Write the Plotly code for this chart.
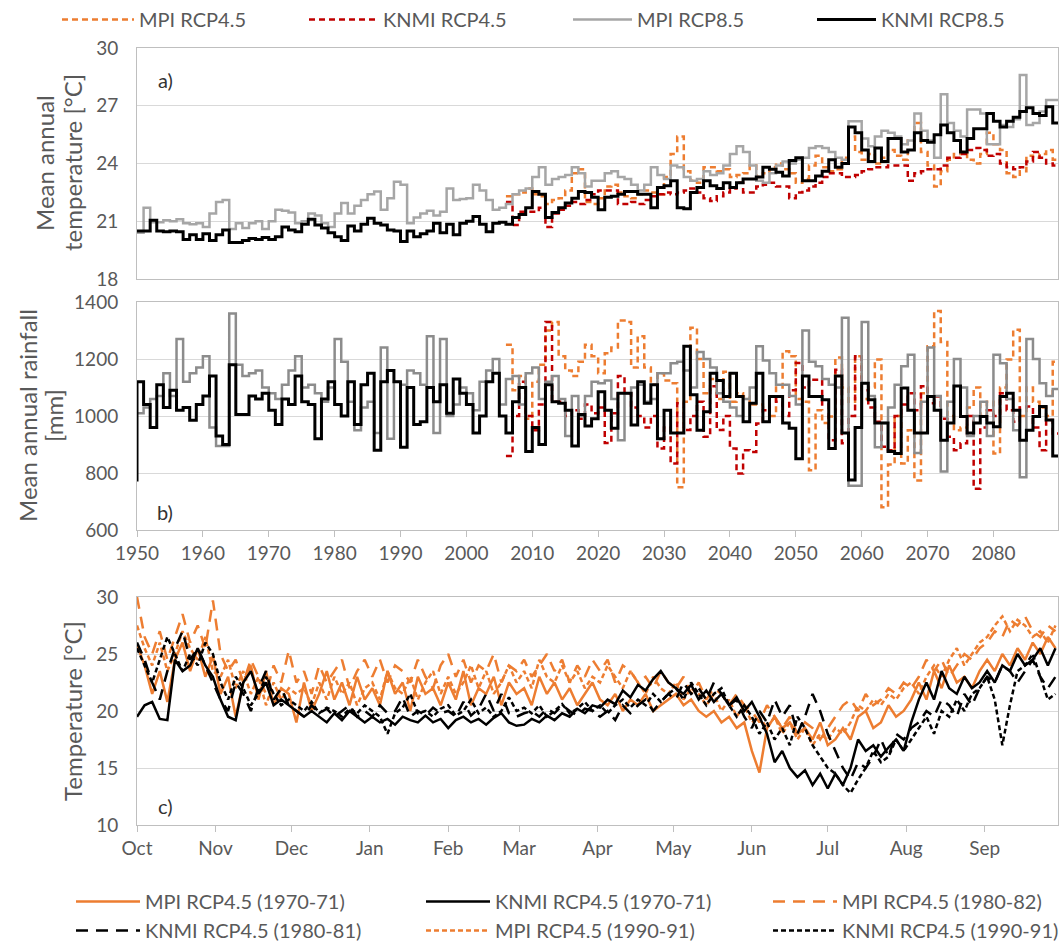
import plotly.graph_objects as go
import pandas as pd

W, H = 1062, 946

# ---------------- DATA ----------------
years_hist = list(range(1950, 2090))      # MPI / KNMI RCP8.5 (incl. historical)
years_rcp45 = list(range(2006, 2090))     # RCP4.5 runs

temp_mpi85 = [
    20.4, 21.7, 20.95, 20.95, 21.05, 21.0, 21.1, 20.9, 20.85, 20.9,
    20.7, 21.4, 22.0, 22.1, 20.6, 20.9, 20.65, 20.9, 21.0, 20.6,
    21.0, 21.6, 21.55, 21.45, 20.9, 21.0, 21.4, 21.3, 20.9, 20.7,
    21.4, 21.95, 21.4, 21.8, 22.1, 22.4, 22.55, 21.6, 22.2, 23.05,
    22.9, 20.9, 21.2, 21.4, 21.55, 21.3, 21.5, 22.7, 22.1, 22.15,
    22.2, 22.9, 22.6, 22.1, 21.6, 21.7,
    21.9, 22.4, 22.6, 22.7,
    23.3, 23.8, 22.9, 23.2, 23.3, 23.4, 23.8, 23.5, 22.8, 23.1,
    23.1, 23.5, 23.6, 23.3, 23.2, 22.9, 22.6, 22.9, 23.8, 23.4,
    23.2, 23.9, 23.8, 23.3, 23.1, 23.2, 23.6, 23.4, 23.5, 23.9,
    24.5, 24.9, 24.6, 23.9, 23.1, 23.0, 23.5,
    23.9, 24.1, 24.0,
    24.2, 24.3, 24.8, 24.9, 24.8, 24.6, 24.3, 24.2, 26.2, 26.2,
    25.3, 24.9, 25.4, 25.7, 25.6, 25.4, 25.0, 25.2, 26.6, 25.7,
    25.2, 24.3, 27.6, 26.1, 25.7, 25.4, 26.8, 26.8, 26.6, 25.0,
    25.0, 26.0, 25.9, 26.3, 28.6, 26.0, 26.1, 26.7, 27.3, 27.3,
]
temp_knmi85 = [
    20.5, 20.5, 21.05, 20.5, 20.45, 20.5, 20.45, 20.05, 20.3, 20.05,
    20.35, 20.0, 20.3, 20.55, 19.9, 19.9, 20.0, 20.1, 20.05, 20.15,
    20.05, 20.2, 20.7, 20.55, 20.45, 20.85, 21.1, 20.8, 20.65, 20.4,
    20.2, 20.0, 20.75, 20.5, 20.85, 21.15, 20.9, 20.8, 20.55, 20.5,
    19.95, 20.5, 20.2, 20.35, 20.5, 20.9, 20.4, 20.85, 20.3, 20.9,
    21.0, 21.25, 20.85, 20.45, 20.9, 20.95,
    20.85, 21.2, 21.35, 21.7,
    22.55, 22.4, 21.2, 21.45, 21.7, 21.95, 22.2, 22.55, 22.5, 22.25,
    21.6, 22.25, 22.3, 22.4, 22.55, 22.55, 22.4, 22.4, 21.7, 22.75,
    22.85, 23.1, 21.7, 21.65, 22.5, 22.75, 23.1, 22.85, 22.7, 23.0,
    22.75, 23.0, 23.2, 23.2, 23.3, 23.8, 23.7, 23.55,
    23.35, 24.15,
    24.3, 23.1, 23.1, 23.35, 23.6, 24.2, 23.8, 24.0, 25.9, 25.6,
    24.7, 24.1, 24.8, 24.1, 25.3, 25.3, 24.6, 24.7, 25.6, 25.2,
    25.1, 25.5, 26.0, 25.6, 25.2, 24.6, 25.3, 25.8, 25.8, 26.6,
    26.2, 25.9, 26.2, 26.4, 26.7, 26.9, 26.6, 26.5, 26.95, 26.1,
]
temp_mpi45 = [
    22.3, 22.4, 22.5, 22.7,
    22.4, 22.3, 21.9, 22.1, 22.2, 22.6, 23.5, 23.7, 22.0, 21.9,
    22.2, 22.8, 22.9, 22.5, 22.3, 22.2, 22.4, 22.6, 22.5, 22.4,
    23.3, 24.5, 25.4, 23.6, 23.1, 23.0, 23.8, 23.8, 23.6, 23.7,
    23.3, 23.4, 23.5, 23.9, 23.3, 23.5, 23.8, 24.0, 23.7, 23.5,
    23.0, 23.2, 23.9, 24.4, 23.8, 23.6, 23.7, 24.3, 25.4, 24.6,
    24.2, 24.5, 24.0, 24.3, 24.7, 24.4, 24.2, 25.2, 26.1, 24.6,
    23.9, 22.8, 23.6, 24.2, 24.5, 24.6, 24.2, 24.0, 24.5, 25.6,
    25.0, 24.7, 23.5, 23.3, 23.6, 24.4, 24.3, 24.5, 24.7, 24.2,
]
temp_knmi45 = [
    22.0, 20.8, 21.5, 21.5,
    21.5, 21.7, 20.7, 21.4, 21.6, 21.8, 22.0, 21.9, 22.1, 22.4,
    22.6, 22.6, 22.6, 21.9, 21.9, 22.0, 21.9, 22.1, 22.3, 22.4,
    22.5, 22.4, 22.5, 22.6, 22.7, 22.5, 22.2, 22.05, 22.3, 22.5,
    22.7, 23.0, 22.5, 22.5, 22.8, 22.9, 23.0, 22.8, 22.8, 22.2,
    22.5, 22.6, 22.8, 23.0, 23.3, 23.5, 23.5, 23.3, 23.3, 23.4,
    23.6, 23.7, 23.8, 23.8, 23.9, 23.9, 23.9, 23.1, 23.5, 23.6,
    23.7, 23.7, 23.9, 24.3, 24.3, 24.5, 24.7, 24.8, 24.7, 24.4,
    24.5, 24.0, 23.8, 23.7, 23.8, 24.1, 24.6, 24.3, 24.0, 23.9,
]

rain_mpi85 = [
    1010, 1030, 1060, 1070, 1150, 1070, 1270, 1120, 1150, 1170,
    1210, 960, 895, 895, 1360, 1180, 1140, 1150, 1160, 1100,
    1080, 1060, 1110, 1160, 1210, 1100, 1110, 1080, 1050, 1100,
    1270, 1190, 1050, 950, 1030, 1050, 940, 1240, 920, 1120,
    1110, 1160, 1150, 1110, 1280, 940, 1270, 1000, 1040, 1100,
    1080, 1020, 1120, 1160, 1200, 1040,
    1130, 1140, 1040, 1150,
    1170, 1060, 1120, 1140, 1060, 930, 1070, 1000, 1070, 1120,
    1115, 1125, 1060, 915, 1080, 1100, 1110, 1050, 1060, 1150,
    1150, 1185, 1190, 1160, 1100, 1225, 1200, 1170, 1080, 1050,
    1030, 1000, 1060, 1100, 1245, 1195, 1150, 1110, 1110, 1070,
    1040, 1300, 1190, 1175, 1130, 1110, 1100, 1345, 755, 755,
    1330, 1070, 890, 975, 1030, 1110, 1175, 1215, 870, 1050,
    1240, 1070, 805, 1050, 1200, 1100, 930, 1000, 1050, 930,
    1215, 1185, 1060, 950, 785, 1270, 1200, 1115, 1070, 1095,
]
rain_knmi85_start = 770
rain_knmi85 = [
    1120, 1040, 960, 1110, 1030, 1090, 1020, 1030, 985, 1040,
    1070, 1140, 930, 900, 1180, 1005, 1005, 1070, 1060, 1080,
    1020, 970, 1060, 1040, 1140, 1050, 1040, 920, 1060, 1120,
    1040, 1000, 1120, 970, 1110, 1150, 880, 1120, 1160, 1120,
    890, 1100, 970, 980, 1100, 1050, 1110, 1010, 1130, 1080,
    1040, 940, 1000, 1120, 1150, 1000,
    940, 1050, 1100, 875,
    960, 900, 1110, 1050, 1045, 1020, 895, 1005, 965, 990,
    1085, 1020, 957, 1080, 1080, 968, 1120, 1045, 1110, 920,
    1020, 940, 940, 1245, 1075, 950, 1015, 1150, 1125, 1068,
    1150, 1068, 980, 1045, 1150, 980, 1068, 1068, 975, 957,
    850, 1140, 1068, 1068, 1057, 886, 1140, 940, 775, 960,
    1115, 1057, 975, 975, 875, 868, 1098, 1020, 940, 940,
    1068, 1020, 915, 975, 1105, 998, 940, 975, 998, 975,
    962, 1068, 1080, 1020, 915, 950, 998, 1033, 986, 860,
]
rain_mpi45 = [
    1250, 1090, 1140, 990,
    1120, 1180, 1300, 1330, 1210, 1160, 1140, 1190, 1250, 1210,
    1150, 1220, 1240, 1335, 1330, 1170, 1280, 1170, 1110, 1150,
    1125, 1115, 750, 1050, 1310, 1200, 1080, 1130, 1060, 1155,
    1050, 1080, 1068, 1040, 1040, 1030, 1000, 1100, 1227, 1210,
    1060, 1050, 810, 1020, 975, 998, 1205, 1100, 1050, 1210,
    1060, 1100, 1198, 680, 830, 1000, 833, 950, 774, 1080,
    1245, 1368, 1260, 1000, 950, 960, 1030, 1100, 1000, 1050,
    868, 1100, 1198, 1303, 1000, 1100, 1050, 1030, 1000, 1190,
]
rain_knmi45 = [
    860, 1000, 1120, 1000,
    950, 1040, 1330, 1050, 1050, 1000, 1020, 990, 1040, 1010,
    1030, 905, 1010, 1140, 1080, 1030, 1000, 960, 1000, 886,
    960, 833, 1045, 951, 1000, 1050, 927, 1104, 951, 1000,
    886, 798, 880, 874, 974, 1020, 1068, 1050, 1000, 1090,
    1186, 1100, 1127, 1127, 1040, 915, 1162, 904, 1000, 1210,
    1090, 1030, 980, 892, 880, 1000, 1040, 1080, 1020, 1104,
    1045, 1068, 990, 927, 880, 904, 1000, 745, 960, 1020,
    1000, 1080, 1020, 980, 1030, 1033, 960, 880, 986, 939,
]

# Daily-panel samples: every 3rd day from 1 Oct (122 samples)
day_start = "2000-10-01"
n_days = 122
mpi_7071 = [
    25.8, 24.0, 21.5, 23.5, 20.8, 24.5, 26.0, 23.5, 25.5, 23.0, 24.8,
    21.5, 23.0, 19.5, 22.5, 24.0, 21.0, 23.5, 20.5, 22.0, 21.5,
    19.0, 22.5, 20.0, 21.5, 23.5, 21.0, 22.5, 20.5, 23.0, 21.0,
    22.0, 20.5, 23.5, 21.5, 22.5, 20.0, 23.0, 21.5, 22.0, 20.5,
    22.5, 21.0, 23.5, 20.5, 22.0, 21.5, 23.0, 20.5, 22.5, 21.5,
    22.0, 20.5, 23.0, 21.5, 22.5, 21.0, 22.0, 20.5, 21.5, 22.5,
    21.0, 20.5, 21.5, 20.0, 21.0, 20.5, 21.5, 20.0, 20.5, 21.0,
    21.5, 20.5, 21.0, 20.0, 19.5, 20.0, 19.0, 19.5, 18.5, 19.0,
    16.5, 14.6, 18.5, 19.5, 18.5, 19.0, 18.0, 18.5, 17.5, 19.0,
    17.0, 17.5, 18.5, 17.5, 19.5, 20.0, 18.5, 19.0, 20.5, 19.5, 20.0,
    21.0, 22.5, 21.0, 23.5, 22.0, 24.0, 22.5, 23.0, 22.0, 23.5,
    24.5, 23.5, 25.0, 24.0, 25.5, 24.5, 26.0, 25.0, 26.5, 25.5,
]
knmi_7071 = [
    19.5, 20.5, 20.8, 19.3, 19.2, 24.5, 23.5, 24.0, 25.5, 24.0, 23.0,
    21.0, 19.5, 19.2, 22.5, 23.5, 21.5, 22.5, 20.5, 21.0, 20.5,
    20.0, 19.5, 20.0, 19.5, 19.0, 19.8, 19.2, 20.0, 19.5, 19.0,
    19.5, 19.0, 19.3, 18.8, 19.5, 19.2, 19.0, 19.6, 19.0, 19.3,
    18.5, 19.2, 19.5, 19.0, 19.3, 18.8, 19.4, 19.8, 19.0, 18.7,
    18.8, 19.3, 19.0, 19.6, 19.2, 19.8, 19.5, 20.2, 19.8, 20.5,
    20.3, 21.0, 20.6, 21.8, 21.2, 22.3, 21.8, 22.8, 23.5, 22.5,
    22.0, 21.5, 22.3, 21.0, 21.8, 20.8, 21.5, 20.5, 21.2, 20.0,
    20.8, 19.5, 18.0, 15.5, 16.5, 15.0, 14.2, 14.8, 13.5, 14.5,
    13.2, 14.5, 13.5, 15.0, 17.5, 16.5, 17.0, 16.0, 16.8, 17.5, 16.5,
    19.0, 21.0, 22.5, 21.0, 23.5, 22.0, 21.5, 23.0, 22.0, 22.5,
    23.5, 22.5, 24.0, 23.5, 25.0, 24.0, 24.5, 25.5, 24.0, 25.5,
]
mpi_8082 = [
    30.0, 26.5, 25.0, 27.0, 24.5, 26.5, 28.5, 26.0, 27.5, 25.5, 29.7,
    25.0, 23.5, 24.5, 22.5, 24.5, 23.0, 21.5, 24.0, 22.5, 25.3,
    22.5, 23.5, 21.5, 24.0, 22.5, 23.5, 24.5, 22.0, 23.5, 24.5,
    23.0, 24.5, 22.5, 24.0, 23.5, 22.5, 24.5, 23.0, 22.0, 24.0,
    25.0, 23.0, 24.5, 22.5, 24.0, 23.5, 25.0, 22.5, 24.0, 23.5,
    24.5, 23.0, 24.0, 25.0, 23.5, 24.5, 22.5, 24.0, 23.0, 24.5,
    23.5, 24.5, 22.5, 24.0, 23.5, 22.5, 23.0, 22.0, 23.5, 22.5,
    22.0, 23.0, 21.5, 22.5, 21.0, 22.0, 21.5, 20.5, 21.5, 20.5,
    20.0, 19.0, 20.5, 19.5, 18.5, 19.5, 18.0, 19.0, 18.5, 17.5,
    18.5, 19.5, 20.5, 21.0, 20.0, 21.5, 20.5, 21.0, 22.0, 21.5, 22.5,
    22.0, 23.0, 24.5, 23.5, 24.5, 23.0, 24.0, 25.0, 24.5, 25.5,
    26.0, 27.0, 26.5, 28.0, 27.5, 28.3, 27.0, 26.5, 27.5, 27.0,
]
knmi_8081 = [
    26.0, 24.5, 22.5, 21.0, 23.5, 25.5, 27.0, 24.5, 25.5, 24.0, 22.5,
    21.0, 20.0, 22.5, 21.5, 20.0, 22.0, 23.5, 21.0, 22.0, 20.5,
    20.0, 19.5, 20.5, 19.8, 20.2, 19.5, 20.0, 20.5, 19.5, 20.0,
    19.5, 20.5, 19.8, 20.0, 21.2, 19.5, 20.0, 19.6, 20.3, 19.8,
    20.0, 19.5, 20.8, 19.6, 20.2, 21.5, 20.0, 21.5, 19.8, 19.5,
    19.8, 20.0, 19.5, 20.2, 19.8, 20.5, 20.0, 19.6, 20.2, 20.0,
    19.5, 20.0, 19.2, 20.5, 19.8, 20.5, 21.0, 20.0, 20.8, 21.5,
    21.0, 22.5, 21.5, 22.0, 21.0, 22.5, 21.5, 20.5, 21.0, 19.5,
    18.5, 20.0, 19.0, 21.0, 19.5, 20.5, 18.0, 19.5, 21.5, 20.0,
    18.0, 16.5, 15.0, 14.0, 15.5, 15.0, 16.0, 17.5, 16.0, 18.0, 17.5,
    18.5, 19.0, 20.0, 19.5, 21.0, 20.5, 19.5, 21.5, 20.5, 22.0,
    23.0, 22.5, 24.0, 23.5, 22.5, 23.5, 24.5, 23.0, 22.0, 23.0,
]
mpi_9091 = [
    27.5, 25.5, 24.0, 26.0, 23.5, 25.0, 27.0, 25.5, 24.5, 26.5, 23.5,
    23.0, 24.5, 22.0, 23.5, 21.5, 23.0, 20.5, 22.5, 21.0, 22.0,
    21.5, 22.0, 20.5, 22.5, 21.0, 23.0, 21.5, 22.5, 20.5, 22.0,
    22.5, 21.0, 23.5, 22.0, 21.5, 23.0, 21.0, 22.5, 23.5, 21.5,
    23.0, 21.5, 22.5, 24.0, 22.0, 23.5, 21.5, 22.5, 24.0, 22.5,
    23.5, 22.0, 24.5, 23.0, 22.5, 24.0, 22.5, 23.5, 22.0, 23.0,
    22.5, 24.0, 23.0, 22.0, 23.5, 22.5, 21.5, 23.0, 22.0, 21.5,
    22.5, 21.0, 22.0, 21.5, 20.5, 21.5, 20.0, 21.0, 19.5, 20.5,
    19.0, 19.5, 18.5, 19.5, 18.0, 19.0, 17.5, 18.5, 17.0, 18.0,
    17.5, 18.5, 18.0, 19.0, 20.5, 20.0, 21.0, 20.5, 21.5, 21.0, 22.0,
    22.5, 21.5, 23.0, 24.0, 23.0, 24.5, 25.5, 24.0, 25.0, 26.0,
    26.5, 27.5, 28.3, 27.0, 28.0, 27.5, 26.5, 27.0, 26.0, 27.5,
]
knmi_9091 = [
    25.5, 24.0, 22.5, 24.5, 26.5, 25.0, 23.5, 25.0, 24.0, 26.0, 25.0,
    22.5, 21.0, 23.0, 22.0, 20.5, 21.5, 23.0, 21.5, 20.5, 21.0,
    20.5, 20.0, 20.8, 19.8, 20.3, 20.0, 19.5, 20.2, 19.8, 20.5,
    20.0, 19.5, 18.0, 19.8, 20.3, 21.5, 19.8, 20.0, 19.5, 20.2,
    20.5, 19.6, 20.0, 21.0, 19.8, 20.3, 19.5, 20.0, 21.2, 20.0,
    20.3, 19.8, 20.5, 19.5, 20.0, 20.6, 19.8, 20.2, 20.8, 20.0,
    20.5, 19.8, 20.5, 21.0, 20.3, 21.0, 20.5, 21.5, 20.8, 21.5,
    22.0, 21.0, 22.5, 21.5, 20.5, 21.5, 22.0, 20.5, 19.5, 20.5,
    19.5, 18.0, 19.0, 17.5, 18.5, 17.0, 19.5, 18.5, 17.0, 16.0,
    15.0, 14.5, 13.5, 12.8, 14.0, 15.0, 16.5, 15.5, 16.0, 17.5, 16.5,
    17.5, 18.5, 19.5, 18.0, 20.0, 19.5, 21.0, 20.0, 21.5, 22.0,
    23.0, 21.0, 17.0, 20.5, 23.5, 24.0, 25.0, 23.0, 21.0, 21.5,
]

# ---------------- STYLE ----------------
ORANGE = "#ED7D31"
RED = "#C00000"
GRAY_A = "#A6A6A6"
GRAY_B = "#8C8C8C"
BLACK = "#000000"
TXT = "#595959"
GRID = "#D9D9D9"
BORDER = "#BFBFBF"
FONT = "Lato"


def px(x):
    return x / W


def py(y):
    return 1 - y / H


def step_xy(years, vals):
    x = list(years) + [years[-1] + 1]
    y = list(vals) + [vals[-1]]
    return x, y


fig = go.Figure()

# ---- panel a ----  (name, years, values, colour, dash, width, legend id)
specs_a = [
    ("MPI RCP4.5", years_rcp45, temp_mpi45, ORANGE, "6px,4px", 2.5, "legend"),
    ("KNMI RCP4.5", years_rcp45, temp_knmi45, RED, "6px,4px", 2.5, "legend5"),
    ("MPI RCP8.5", years_hist, temp_mpi85, GRAY_A, "solid", 2.5, "legend6"),
    ("KNMI RCP8.5", years_hist, temp_knmi85, BLACK, "solid", 3, "legend7"),
]
for name, yrs, vals, col, dash, w, leg in specs_a:
    x, y = step_xy(yrs, vals)
    fig.add_trace(go.Scatter(x=x, y=y, mode="lines", name=name,
                             line=dict(color=col, width=w, dash=dash, shape="hv"),
                             xaxis="x", yaxis="y", legend=leg))

# ---- panel b ----
specs_b = [
    (years_rcp45, rain_mpi45, ORANGE, "6px,4px", 2.5),
    (years_rcp45, rain_knmi45, RED, "6px,4px", 2.5),
    (years_hist, rain_mpi85, GRAY_B, "solid", 2.5),
    (years_hist, rain_knmi85, BLACK, "solid", 3),
]
for yrs, vals, col, dash, w in specs_b:
    x, y = step_xy(yrs, vals)
    if vals is rain_knmi85:
        x = [yrs[0]] + x
        y = [rain_knmi85_start] + y
    fig.add_trace(go.Scatter(x=x, y=y, mode="lines", showlegend=False,
                             line=dict(color=col, width=w, dash=dash, shape="hv"),
                             xaxis="x2", yaxis="y2"))

# ---- panel c ----
dates = pd.date_range(day_start, periods=n_days, freq="3D")
# (name, values, colour, dash, legend column, row)
specs_c = [
    ("MPI RCP4.5 (1970-71)", mpi_7071, ORANGE, "solid", "legend2", 1),
    ("MPI RCP4.5 (1980-82)", mpi_8082, ORANGE, "12px,8px", "legend4", 1),
    ("MPI RCP4.5 (1990-91)", mpi_9091, ORANGE, "5px,3px", "legend3", 2),
    ("KNMI RCP4.5 (1970-71)", knmi_7071, BLACK, "solid", "legend3", 1),
    ("KNMI RCP4.5 (1980-81)", knmi_8081, BLACK, "12px,8px", "legend2", 2),
    ("KNMI RCP4.5 (1990-91)", knmi_9091, BLACK, "5px,3px", "legend4", 2),
]
for name, vals, col, dash, leg, rank in specs_c:
    fig.add_trace(go.Scatter(x=dates, y=vals, mode="lines", name=name,
                             line=dict(color=col, width=2.5, dash=dash),
                             xaxis="x3", yaxis="y3", legend=leg,
                             legendrank=rank))

axis_common = dict(showline=True, mirror=True, linecolor=BORDER, linewidth=1,
                   zeroline=False, tickfont=dict(family=FONT, size=19, color=TXT))
xdom = [px(137), px(1058)]

leg_font = dict(family=FONT, size=20, color=TXT)


def one_legend(xpix, ytop, itemwidth):
    return dict(orientation="v", x=px(xpix), xanchor="left", y=py(ytop), yanchor="top",
                font=leg_font, itemwidth=itemwidth, bgcolor="rgba(0,0,0,0)",
                traceorder="normal", tracegroupgap=0)


fig.update_layout(
    width=W, height=H,
    margin=dict(l=0, r=0, t=0, b=0, autoexpand=False),
    paper_bgcolor="white", plot_bgcolor="white",
    font=dict(family=FONT, color=TXT),
    showlegend=True,
    xaxis=dict(domain=xdom, range=[1950, 2089.8], showticklabels=False,
               ticks="", showgrid=False, anchor="y", **axis_common),
    yaxis=dict(domain=[py(279), py(48)], range=[18, 30], tick0=18, dtick=3,
               ticks="", showgrid=True, gridcolor=GRID, anchor="x",
               ticklabelstandoff=14, **axis_common),
    xaxis2=dict(domain=xdom, range=[1950, 2089.8], tick0=1950, dtick=10,
                ticks="outside", ticklen=6, tickcolor=BORDER, showgrid=False,
                anchor="y2", **axis_common),
    yaxis2=dict(domain=[py(530), py(302)], range=[600, 1400], tick0=600, dtick=200,
                ticks="", showgrid=True, gridcolor=GRID, anchor="x2",
                ticklabelstandoff=14, **axis_common),
    xaxis3=dict(domain=xdom, type="date", range=["2000-10-01", "2001-09-30"],
                tick0="2000-10-01", dtick="M1", tickformat="%b",
                ticks="outside", ticklen=6, tickcolor=BORDER, showgrid=False,
                anchor="y3", **axis_common),
    yaxis3=dict(domain=[py(825), py(597)], range=[10, 30], tick0=10, dtick=5,
                ticks="", showgrid=True, gridcolor=GRID, anchor="x3",
                ticklabelstandoff=14, **axis_common),
    legend=one_legend(57, 0, 72),
    legend5=one_legend(304, 0, 69),
    legend6=one_legend(568, 0, 59),
    legend7=one_legend(812, 0, 59),
    legend2=one_legend(71, 882, 64),
    legend3=one_legend(421, 882, 64),
    legend4=one_legend(768, 882, 64),
)

annots = [
    ("Mean annual", 44, 163, 24, -90, TXT),
    ("temperature [°C]", 72, 163, 24, -90, TXT),
    ("Mean annual rainfall", 27, 416, 24, -90, TXT),
    ("[mm]", 53, 416, 24, -90, TXT),
    ("Temperature [°C]", 72, 711, 24, -90, TXT),
    ("a)", 165, 80, 20, 0, "#333333"),
    ("b)", 165, 512, 20, 0, "#333333"),
    ("c)", 165, 806, 20, 0, "#333333"),
]
for text, x, y, size, ang, col in annots:
    fig.add_annotation(text=text, x=px(x), y=py(y), xref="paper", yref="paper",
                       showarrow=False, textangle=ang, xanchor="center", yanchor="middle",
                       font=dict(family=FONT, size=size, color=col))

fig.write_html("out.html")
